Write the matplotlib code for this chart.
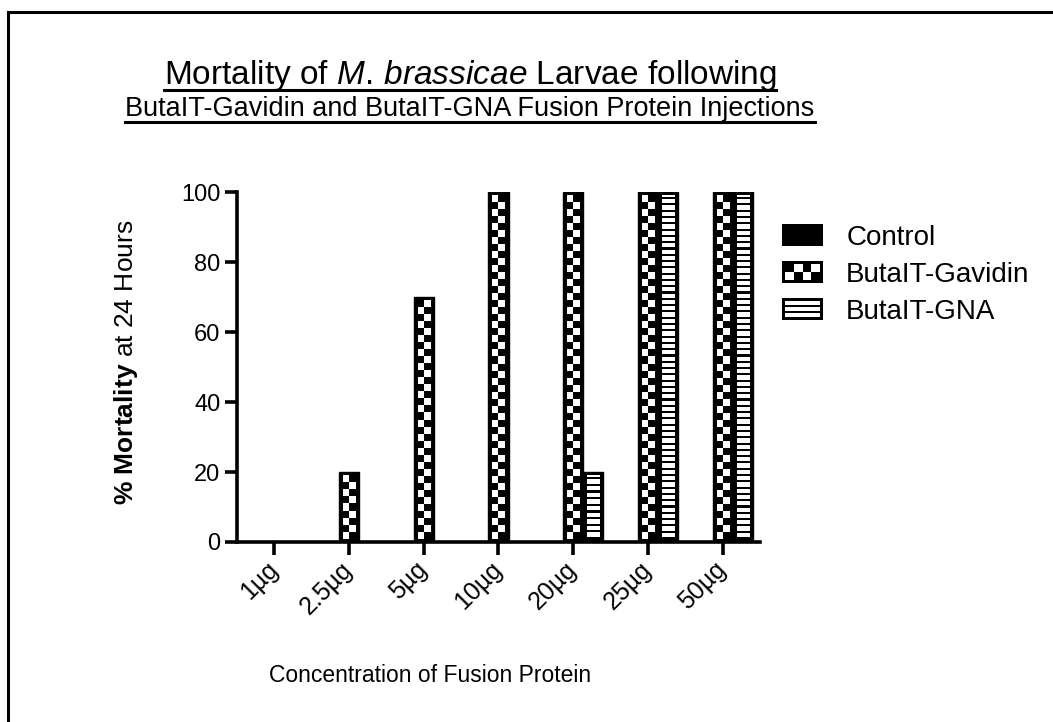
import matplotlib
matplotlib.use("Agg")
import matplotlib.pyplot as plt
import numpy as np
from matplotlib.patches import Rectangle
from matplotlib.legend_handler import HandlerBase
from matplotlib.lines import Line2D

# ---- data -------------------------------------------------------------
doses = ["1µg", "2.5µg", "5µg", "10µg", "20µg", "25µg", "50µg"]
series_names = ["Control", "ButaIT-Gavidin", "ButaIT-GNA"]
control = [0, 0, 0, 0, 0, 0, 0]
gavidin = [0, 20, 70, 100, 100, 100, 100]
gna = [0, 0, 0, 0, 20, 100, 100]

# ---- fonts ------------------------------------------------------------
plt.rcParams["font.family"] = "Liberation Sans"
plt.rcParams["mathtext.fontset"] = "custom"
plt.rcParams["mathtext.rm"] = "Liberation Sans"
plt.rcParams["mathtext.it"] = "Liberation Sans:italic"
plt.rcParams["mathtext.bf"] = "Liberation Sans:bold"

W, H = 1053, 722
fig = plt.figure(figsize=(W / 100, H / 100), dpi=100)
ax = fig.add_axes([237 / W, 1 - 542 / H, 523 / W, 350 / H])

x = np.arange(len(doses))
bw = 0.27
b_ctrl = ax.bar(x - bw, control, bw, color="black", edgecolor="black", lw=1, zorder=2)
b_gav = ax.bar(x, gavidin, bw, color="black", edgecolor="black", lw=1, zorder=2)
b_gna = ax.bar(x + bw, gna, bw, color="black", edgecolor="black", lw=1, zorder=2)


def fill_pattern(bar, kind):
    """Paint a checkerboard or striped texture inside a bar, leaving a black rim."""
    h = bar.get_height()
    if h <= 0:
        return
    x0, w = bar.get_x(), bar.get_width()
    ix = 0.2 * w
    iy = 0.9
    inner = h - 2 * iy
    if kind == "checker":
        n = max(1, int(round(inner / 2.0)))
        arr = np.add.outer(np.arange(n), np.arange(2)) % 2
    else:
        n = max(1, int(round(inner / 1.8)))
        arr = np.tile(np.array([[1], [0], [0]]), (n, 1))[:-1]
    ax.imshow(arr, cmap="gray_r", vmin=0, vmax=1, origin="lower",
              extent=(x0 + ix, x0 + w - ix, iy, h - iy),
              interpolation="nearest", aspect="auto", zorder=3)


for b in b_gav:
    fill_pattern(b, "checker")
for b in b_gna:
    fill_pattern(b, "stripes")

ax.set_xlim(-0.5, len(doses) - 0.5)
ax.set_ylim(0, 100)
ax.set_yticks([0, 20, 40, 60, 80, 100])
ax.set_xticks(x)
ax.set_xticklabels(doses, rotation=45, ha="right", va="center", rotation_mode="anchor")

for s in ["top", "right"]:
    ax.spines[s].set_visible(False)
for s in ["left", "bottom"]:
    ax.spines[s].set_linewidth(2.6)
ax.tick_params(axis="both", length=9, width=2.6, pad=3, color="black")
ax.tick_params(axis="y", labelsize=17)
ax.tick_params(axis="x", labelsize=18, pad=8)

ax.set_ylabel(r"$\bf{\%\ Mortality}$ at 24 Hours", fontsize=19)
ax.yaxis.set_label_coords(-0.185, 0.514)

fig.text(430 / W, 1 - 682 / H, "Concentration of Fusion Protein", fontsize=16.5,
         ha="center", va="baseline")


# ---- legend with textured swatches --------------------------------------
class SwatchHandler(HandlerBase):
    def __init__(self, kind):
        super().__init__()
        self.kind = kind

    def create_artists(self, legend, orig_handle, xdescent, ydescent,
                       width, height, fontsize, trans):
        x0, y0 = -xdescent, -ydescent
        arts = [Rectangle((x0, y0), width, height, fc="black", lw=0, transform=trans)]
        b = 0.13 * height
        if self.kind == "checker":
            ncol, nrow = 4, 2
            cw = (width - 2 * b) / ncol
            ch = (height - 2 * b) / nrow
            for i in range(nrow):
                for j in range(ncol):
                    if (i + j) % 2 == 0:
                        arts.append(Rectangle((x0 + b + j * cw, y0 + b + i * ch), cw, ch,
                                              fc="white", lw=0, transform=trans))
        elif self.kind == "stripes":
            gap = 0.09 * height
            sh = (height - 2 * b - 2 * gap) / 3
            for i in range(3):
                arts.append(Rectangle((x0 + b, y0 + b + i * (sh + gap)), width - 2 * b, sh,
                                      fc="white", lw=0, transform=trans))
        return arts


handles = [Rectangle((0, 0), 1, 1) for _ in series_names]
kinds = ["solid", "checker", "stripes"]
fig.legend(handles, series_names, loc="upper left",
           bbox_to_anchor=(782 / W, 1 - 224 / H), bbox_transform=fig.transFigure,
           frameon=False, fontsize=20, handlelength=1.48, handleheight=0.83,
           handletextpad=0.83, labelspacing=0.38, borderpad=0, borderaxespad=0,
           handler_map={h: SwatchHandler(k) for h, k in zip(handles, kinds)})

# ---- underlined two-line title -------------------------------------------
title_lines = [r"Mortality of $\it{M.\,brassicae}$ Larvae following",
               "ButaIT-Gavidin and ButaIT-GNA Fusion Protein Injections"]
title_sizes = [24, 19.5]
baselines = [84, 116]
title_texts = []
for line, fs, yb in zip(title_lines, title_sizes, baselines):
    title_texts.append(fig.text(470 / W, 1 - yb / H, line, fontsize=fs,
                                ha="center", va="baseline"))

fig.canvas.draw()
renderer = fig.canvas.get_renderer()
for t, yb in zip(title_texts, baselines):
    bb = t.get_window_extent(renderer)
    yu = 1 - (yb + 6) / H
    fig.add_artist(Line2D([bb.x0 / W, bb.x1 / W], [yu, yu], transform=fig.transFigure,
                          color="black", lw=2.2))

# ---- outer frame (top and left edges) ------------------------------------
fig.add_artist(Line2D([8 / W, 1], [1 - 12 / H, 1 - 12 / H], transform=fig.transFigure,
                      color="black", lw=2.2))
fig.add_artist(Line2D([8 / W, 8 / W], [0, 1 - 12 / H], transform=fig.transFigure,
                      color="black", lw=2.2))

fig.savefig("out.png", dpi=100)
